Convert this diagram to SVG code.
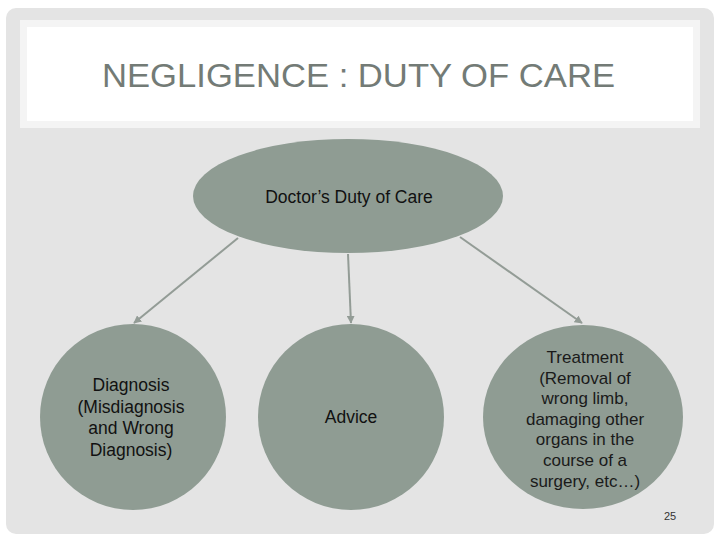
<svg xmlns="http://www.w3.org/2000/svg" width="720" height="540" viewBox="0 0 720 540">
<style>
.node{fill:#8f9c93}
.t{font-family:"Liberation Sans",Arial,sans-serif;font-size:17.5px;fill:#111;text-anchor:middle}
.t2{font-family:"Liberation Sans",Arial,sans-serif;font-size:17px;fill:#1a1a1a;text-anchor:middle}
.conn{stroke:#939c96;stroke-width:2;fill:none;marker-end:url(#ah)}
</style>
<defs>
<marker id="ah" viewBox="0 0 10 10" refX="9" refY="5" markerWidth="4" markerHeight="4" orient="auto">
<path d="M0,0 L10,5 L0,10 z" fill="#939c96"/>
</marker>
</defs>
<rect width="720" height="540" fill="#ffffff"/>
<rect x="6" y="8" width="708" height="526" rx="10" fill="#e4e4e4"/>
<g id="title">
<rect x="20" y="20" width="680" height="108" fill="#f4f4f4"/>
<rect x="27" y="27" width="666" height="94" fill="#ffffff"/>
<text x="102" y="87" font-family="Liberation Sans,Arial,sans-serif" font-size="34" fill="#737b76" textLength="513" lengthAdjust="spacingAndGlyphs">NEGLIGENCE : DUTY OF CARE</text>
</g>
<g id="connectors">
<line class="conn" x1="238" y1="238" x2="134" y2="323"/>
<line class="conn" x1="348" y1="254" x2="351" y2="323"/>
<line class="conn" x1="460" y1="237" x2="582" y2="323"/>
</g>
<g id="root">
<ellipse class="node" cx="348" cy="196" rx="155" ry="57"/>
<text class="t" x="349" y="203">Doctor’s Duty of Care</text>
</g>
<g id="diagnosis">
<circle class="node" cx="133" cy="417" r="93"/>
<text class="t" x="131" y="391">Diagnosis</text>
<text class="t" x="131" y="413">(Misdiagnosis</text>
<text class="t" x="131" y="434">and Wrong</text>
<text class="t" x="131" y="456">Diagnosis)</text>
</g>
<g id="advice">
<circle class="node" cx="351" cy="417" r="93"/>
<text class="t" x="351" y="423">Advice</text>
</g>
<g id="treatment">
<ellipse class="node" cx="583" cy="417" rx="100" ry="92"/>
<text class="t2" x="585" y="363">Treatment</text>
<text class="t2" x="585" y="384">(Removal of</text>
<text class="t2" x="585" y="404">wrong limb,</text>
<text class="t2" x="585" y="425">damaging other</text>
<text class="t2" x="585" y="445">organs in the</text>
<text class="t2" x="585" y="466">course of a</text>
<text class="t2" x="585" y="487">surgery, etc…)</text>
</g>
<text x="670" y="520" font-family="Liberation Sans,Arial,sans-serif" font-size="11" fill="#333" text-anchor="middle">25</text>
</svg>
